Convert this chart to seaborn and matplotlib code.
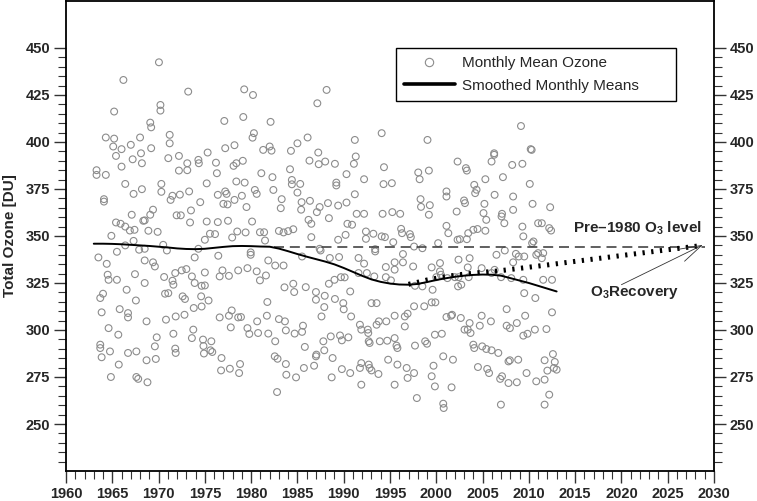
import pandas as pd
import seaborn as sns
import matplotlib.pyplot as plt
from matplotlib.lines import Line2D
from matplotlib.ticker import MultipleLocator, FixedLocator

# monthly mean total ozone (decimal year, DU)
obs_1960s = [
    (1963.3, 385.0), (1963.3, 382.5), (1963.5, 338.6), (1963.7, 317.0), (1963.7, 292.2),
    (1963.7, 290.4), (1963.85, 309.4), (1963.85, 285.5), (1964.0, 319.3), (1964.1, 369.6),
    (1964.1, 368.3), (1964.3, 382.5), (1964.3, 402.4), (1964.4, 335.2), (1964.5, 329.4),
    (1964.6, 326.7), (1964.6, 301.0), (1964.75, 288.6), (1964.85, 275.0), (1964.9, 350.1),
    (1965.1, 397.6), (1965.2, 416.2), (1965.2, 401.8), (1965.4, 392.6), (1965.4, 357.2),
    (1965.5, 341.6), (1965.5, 326.7), (1965.65, 297.5), (1965.7, 281.6), (1965.8, 311.1),
    (1965.9, 356.5), (1966.0, 396.2), (1966.0, 386.9), (1966.2, 433.0), (1966.4, 377.7),
    (1966.4, 355.0), (1966.4, 345.0), (1966.55, 321.4), (1966.7, 309.0), (1966.7, 306.7),
    (1966.7, 287.8), (1966.9, 352.9), (1967.0, 398.5), (1967.1, 361.3), (1967.2, 390.8),
    (1967.3, 372.4), (1967.3, 347.4), (1967.4, 353.3), (1967.45, 329.7), (1967.55, 315.7),
    (1967.6, 288.6), (1967.6, 275.0), (1967.8, 274.0), (1967.9, 342.7), (1968.0, 402.4),
    (1968.1, 394.0), (1968.2, 388.7), (1968.2, 374.9), (1968.35, 358.1), (1968.5, 358.3),
    (1968.5, 343.2), (1968.5, 337.0), (1968.5, 325.0), (1968.7, 304.6), (1968.7, 283.9),
    (1968.8, 272.2), (1968.9, 352.8), (1969.1, 410.3), (1969.1, 361.3), (1969.2, 407.8),
    (1969.2, 396.7), (1969.4, 364.0), (1969.4, 336.0), (1969.6, 333.8), (1969.6, 291.3),
    (1969.7, 284.6), (1969.8, 296.1), (1969.9, 352.2),
]
obs_1970s = [
    (1970.04, 442.4), (1970.2, 419.7), (1970.2, 416.7), (1970.3, 377.7), (1970.3, 373.5),
    (1970.5, 345.3), (1970.6, 328.2), (1970.7, 319.3), (1970.8, 305.5), (1970.9, 342.3),
    (1971.05, 391.4), (1971.05, 319.6), (1971.2, 403.8), (1971.2, 399.3), (1971.3, 369.2),
    (1971.5, 371.4), (1971.5, 326.2), (1971.6, 324.1), (1971.6, 298.0), (1971.8, 330.3),
    (1971.8, 290.1), (1971.85, 307.2), (1971.85, 287.8), (1971.95, 361.0), (1972.2, 392.6),
    (1972.2, 384.8), (1972.3, 372.0), (1972.4, 361.0), (1972.5, 331.7), (1972.6, 317.9),
    (1972.8, 308.1), (1972.85, 316.5), (1973.0, 332.4), (1973.1, 388.7), (1973.1, 385.0),
    (1973.2, 426.8), (1973.3, 373.7), (1973.4, 357.2), (1973.5, 363.6), (1973.6, 328.5),
    (1973.6, 295.7), (1973.75, 300.2), (1973.8, 311.7), (1973.9, 338.6), (1973.9, 325.0),
    (1974.3, 390.5), (1974.35, 388.7), (1974.3, 343.2), (1974.5, 368.0), (1974.6, 317.9),
    (1974.65, 323.5), (1974.65, 312.5), (1974.8, 294.9), (1974.85, 291.5), (1974.9, 287.5),
    (1975.0, 348.0), (1975.2, 378.0), (1975.2, 357.7), (1975.4, 315.7), (1975.3, 394.4),
    (1975.55, 351.2), (1975.0, 330.6), (1975.0, 323.7), (1975.7, 294.0), (1975.8, 288.3),
    (1975.6, 289.2), (1976.1, 351.0), (1976.2, 389.0), (1976.3, 383.4), (1976.4, 371.9),
    (1976.4, 357.4), (1976.45, 339.5), (1976.6, 328.5), (1976.6, 306.7), (1976.8, 285.1),
    (1976.75, 278.5), (1976.9, 331.7), (1977.0, 367.1), (1977.1, 411.2), (1977.2, 396.7),
    (1977.2, 373.7), (1977.35, 372.4), (1977.45, 366.8), (1977.5, 358.1), (1977.6, 328.8),
    (1977.6, 307.6), (1977.7, 279.4), (1977.8, 301.4), (1977.9, 310.4), (1977.95, 349.2),
    (1978.1, 387.3), (1978.2, 398.3), (1978.2, 369.2), (1978.4, 388.7), (1978.4, 379.0),
    (1978.5, 352.4), (1978.6, 331.7), (1978.6, 306.7), (1978.7, 277.1), (1978.8, 281.9),
    (1978.9, 306.9), (1979.0, 371.4), (1979.1, 390.0), (1979.15, 413.3), (1979.25, 428.0),
    (1979.3, 378.4), (1979.4, 351.9), (1979.5, 365.4), (1979.6, 332.9), (1979.6, 301.0),
    (1979.8, 297.9), (1979.95, 341.3), (1979.95, 340.0),
]
obs_1980s = [
    (1980.15, 402.3), (1980.2, 425.0), (1980.3, 404.7), (1980.1, 357.7), (1980.4, 374.5),
    (1980.6, 372.4), (1980.6, 331.2), (1980.65, 304.6), (1980.75, 298.4), (1980.95, 352.0),
    (1980.95, 326.4), (1981.1, 383.4), (1981.3, 395.8), (1981.4, 352.0), (1981.5, 347.6),
    (1981.6, 329.0), (1981.7, 307.6), (1981.75, 314.9), (1981.85, 337.0), (1981.85, 298.1),
    (1982.0, 397.6), (1982.1, 410.7), (1982.2, 395.4), (1982.3, 381.3), (1982.4, 374.5),
    (1982.55, 286.0), (1982.6, 334.3), (1982.6, 294.0), (1982.8, 267.0), (1982.85, 284.7),
    (1983.0, 352.7), (1983.0, 305.8), (1983.2, 364.8), (1983.3, 369.6), (1983.5, 351.9),
    (1983.5, 334.3), (1983.6, 322.7), (1983.65, 304.6), (1983.75, 299.8), (1983.75, 281.9),
    (1983.8, 276.2), (1984.0, 352.6), (1984.2, 385.5), (1984.3, 395.3), (1984.4, 379.8),
    (1984.4, 377.5), (1984.55, 353.6), (1984.55, 324.6), (1984.65, 320.2), (1984.7, 298.1),
    (1984.85, 274.8), (1985.0, 399.3), (1985.0, 373.1), (1985.3, 377.7), (1985.4, 364.0),
    (1985.45, 368.0), (1985.5, 339.1), (1985.5, 299.0), (1985.6, 302.3), (1985.7, 279.8),
    (1985.8, 291.0), (1985.9, 322.8), (1986.1, 402.4), (1986.2, 358.6), (1986.3, 390.1),
    (1986.35, 368.7), (1986.5, 356.5), (1986.5, 349.4), (1986.8, 281.0), (1987.0, 320.2),
    (1987.0, 316.1), (1987.0, 286.0), (1987.05, 286.9), (1987.1, 362.7), (1987.15, 420.6),
    (1987.25, 394.4), (1987.3, 388.2), (1987.4, 365.4), (1987.4, 343.2), (1987.5, 342.3),
    (1987.6, 307.2), (1987.8, 294.0), (1987.9, 312.2), (1987.9, 289.2), (1987.95, 318.2),
    (1988.15, 427.7), (1988.3, 367.5), (1988.0, 389.6), (1988.4, 324.6), (1988.4, 359.5),
    (1988.5, 338.3), (1988.6, 296.6), (1988.8, 285.1), (1988.7, 274.8), (1989.05, 388.4),
    (1989.05, 316.5), (1989.0, 326.7), (1989.2, 378.4), (1989.2, 376.9), (1989.4, 366.2),
    (1989.4, 348.0), (1989.5, 338.8), (1989.6, 297.1), (1989.7, 328.1), (1989.8, 294.5),
    (1989.8, 279.2), (1989.95, 314.3),
]
obs_1990s = [
    (1990.0, 311.0), (1990.3, 382.9), (1990.3, 367.8), (1990.4, 356.5), (1990.2, 350.6),
    (1990.1, 328.0), (1990.5, 296.1), (1990.7, 320.5), (1990.7, 277.1), (1990.8, 307.2),
    (1990.9, 356.0), (1991.1, 388.4), (1991.2, 401.1), (1991.2, 372.2), (1991.3, 392.3),
    (1991.4, 361.8), (1991.6, 338.3), (1991.6, 330.3), (1991.75, 302.8), (1991.75, 279.8),
    (1991.9, 300.2), (1991.9, 282.4), (1991.9, 270.9), (1992.2, 380.2), (1992.2, 361.8),
    (1992.2, 335.3), (1992.4, 352.4), (1992.4, 348.5), (1992.5, 330.3), (1992.6, 300.2),
    (1992.65, 298.4), (1992.7, 294.0), (1992.7, 281.6), (1992.8, 293.1), (1992.8, 279.8),
    (1993.0, 314.3), (1993.0, 278.5), (1993.2, 351.2), (1993.3, 328.5), (1993.4, 343.0),
    (1993.4, 341.8), (1993.55, 314.3), (1993.55, 302.8), (1993.75, 276.6), (1993.8, 304.6),
    (1993.9, 294.0), (1994.1, 404.7), (1994.1, 349.8), (1994.2, 361.8), (1994.3, 377.6),
    (1994.35, 386.6), (1994.45, 349.4), (1994.55, 333.5), (1994.55, 328.1), (1994.6, 304.6),
    (1994.7, 294.3), (1994.8, 284.2), (1995.1, 326.4), (1995.2, 378.1), (1995.25, 362.7),
    (1995.35, 346.7), (1995.5, 332.1), (1995.5, 336.0), (1995.5, 307.6), (1995.5, 295.7),
    (1995.5, 270.9), (1995.7, 291.7), (1995.8, 290.4), (1995.8, 281.6), (1996.1, 361.8),
    (1996.2, 353.8), (1996.3, 351.5), (1996.4, 340.4), (1996.4, 336.0), (1996.6, 307.2),
    (1996.6, 301.9), (1996.8, 279.8), (1996.9, 308.7), (1996.9, 274.5), (1997.15, 351.0),
    (1997.25, 349.4), (1997.5, 333.8), (1997.6, 344.4), (1997.6, 312.6), (1997.6, 277.1),
    (1997.7, 323.5), (1997.7, 291.7), (1997.9, 263.8), (1998.05, 383.8), (1998.2, 380.2),
    (1998.3, 369.6), (1998.35, 365.5), (1998.5, 343.5), (1998.5, 323.2), (1998.7, 312.6),
    (1998.8, 294.0), (1999.0, 292.7), (1999.05, 401.1), (1999.2, 384.8), (1999.2, 361.3),
    (1999.3, 366.4), (1999.5, 333.3), (1999.5, 314.7), (1999.5, 275.4), (1999.6, 321.4),
    (1999.7, 281.0), (1999.85, 297.5), (1999.85, 270.0), (1999.9, 314.7),
]
obs_2000s = [
    (2000.0, 328.1), (2000.2, 346.2), (2000.4, 335.6), (2000.4, 331.2), (2000.5, 329.4),
    (2000.6, 298.0), (2000.75, 286.0), (2000.75, 260.8), (2000.8, 258.5), (2001.1, 373.7),
    (2001.1, 371.0), (2001.1, 355.4), (2001.1, 306.9), (2001.2, 327.6), (2001.3, 351.5),
    (2001.65, 269.5), (2001.6, 307.6), (2001.7, 308.1), (2001.8, 284.2), (2002.0, 328.1),
    (2002.2, 363.0), (2002.3, 389.6), (2002.3, 348.0), (2002.35, 323.2), (2002.4, 337.4),
    (2002.4, 328.1), (2002.55, 348.3), (2002.65, 306.4), (2002.7, 324.1), (2003.0, 368.9),
    (2003.05, 300.2), (2003.1, 367.5), (2003.2, 386.1), (2003.3, 384.8), (2003.3, 348.3),
    (2003.4, 333.3), (2003.4, 300.2), (2003.45, 351.5), (2003.5, 328.1), (2003.6, 338.2),
    (2003.6, 303.7), (2003.7, 298.4), (2004.0, 353.3), (2004.0, 292.2), (2004.1, 377.2),
    (2004.1, 290.4), (2004.2, 372.8), (2004.35, 374.6), (2004.45, 353.7), (2004.5, 280.3),
    (2004.7, 302.3), (2004.9, 332.9), (2004.9, 307.6), (2004.96, 291.3), (2005.1, 362.2),
    (2005.2, 367.1), (2005.3, 380.2), (2005.3, 352.8), (2005.4, 358.6), (2005.4, 289.9),
    (2005.5, 279.3), (2005.7, 277.1), (2005.9, 304.6), (2005.97, 389.6), (2005.97, 330.3),
    (2005.97, 289.2), (2006.25, 394.0), (2006.25, 393.2), (2006.3, 371.9), (2006.3, 332.0),
    (2006.5, 340.0), (2006.7, 287.8), (2006.9, 274.0), (2006.98, 260.3), (2007.0, 328.1),
    (2007.05, 360.4), (2007.1, 361.8), (2007.1, 275.4), (2007.2, 381.3), (2007.35, 356.8),
    (2007.4, 342.3), (2007.6, 311.1), (2007.6, 302.3), (2007.8, 283.3), (2007.8, 271.8),
    (2007.95, 301.0), (2007.95, 283.9), (2008.1, 327.6), (2008.2, 387.8), (2008.3, 371.0),
    (2008.3, 363.9), (2008.3, 336.0), (2008.6, 340.5), (2008.7, 303.7), (2008.7, 272.2),
    (2008.85, 284.2), (2008.9, 339.1), (2009.15, 408.5), (2009.3, 388.4), (2009.3, 355.0),
    (2009.4, 349.8), (2009.4, 326.7), (2009.4, 297.0), (2009.5, 339.1), (2009.5, 319.6),
    (2009.6, 307.6), (2009.75, 277.1), (2009.85, 298.0),
]
obs_2010s = [
    (2010.1, 377.7), (2010.2, 396.2), (2010.3, 395.8), (2010.35, 346.2), (2010.4, 367.1),
    (2010.5, 347.1), (2010.65, 300.2), (2010.7, 317.0), (2010.8, 340.0), (2010.8, 272.7),
    (2011.0, 356.8), (2011.0, 340.9), (2011.4, 356.8), (2011.4, 338.2), (2011.55, 340.9),
    (2011.55, 326.7), (2011.7, 283.9), (2011.7, 273.6), (2011.7, 260.3), (2011.9, 300.5),
    (2012.0, 278.4), (2012.2, 354.2), (2012.2, 265.6), (2012.3, 365.3), (2012.4, 352.9),
    (2012.5, 326.7), (2012.5, 309.4), (2012.6, 287.2), (2012.7, 279.8), (2012.8, 283.0),
    (2013.0, 278.9),
]

# smoothed monthly means, one reading per year
smooth_years = list(range(1963, 2014))
smooth_ozone = [
    345.9, 345.9, 345.8, 345.6, 345.3, 345.0, 344.7, 344.3, 343.9, 343.4,
    343.1, 343.0, 343.2, 343.7, 344.2, 344.6, 344.7, 344.6, 344.4, 344.3,
    343.3, 341.9, 340.4, 339.0, 337.7, 336.4, 334.9, 333.0, 330.9, 328.8,
    326.9, 325.6, 324.7, 324.2, 324.1, 324.5, 325.5, 326.6, 327.5, 328.3,
    328.9, 329.3, 329.5, 329.4, 328.9, 327.6, 326.3, 325.0, 323.5, 322.0,
    320.5,
]

# projected recovery (dotted) and pre-1980 reference level (dashed)
recovery_years = [1997, 1998, 1999, 2000, 2001, 2002, 2003, 2004, 2005, 2006,
                  2007, 2008, 2009, 2010, 2012, 2015, 2020, 2025, 2028.8]
recovery_ozone = [324.3, 325.4, 326.6, 327.5, 328.4, 329.1, 329.7, 330.2, 330.7, 331.1,
                  331.6, 332.2, 332.8, 333.4, 334.6, 336.5, 339.6, 342.7, 345.0]
pre1980_years = [1982.5, 2029.0]
pre1980_ozone = [344.3, 344.3]

sns.set_theme(style="ticks")
plt.rcParams["font.family"] = ["Liberation Sans", "DejaVu Sans"]
plt.rcParams["font.weight"] = "bold"
plt.rcParams["mathtext.fontset"] = "custom"
plt.rcParams["mathtext.rm"] = "Liberation Sans"
plt.rcParams["mathtext.bf"] = "Liberation Sans:bold"

obs = pd.DataFrame(obs_1960s + obs_1970s + obs_1980s + obs_1990s + obs_2000s + obs_2010s,
                   columns=["year", "ozone"])

fig = plt.figure(figsize=(7.57, 5.01), dpi=100)
ax = fig.add_axes([66 / 757, 30 / 501, 648 / 757, 470 / 501])

sns.scatterplot(data=obs, x="year", y="ozone", ax=ax, s=24, color="#8c8c8c", zorder=2)
pts = ax.collections[-1]
pts.set_facecolor("none")
pts.set_edgecolor("#8c8c8c")
pts.set_linewidth(0.8)

sns.lineplot(x=pre1980_years, y=pre1980_ozone, ax=ax, color="#444444", lw=1.2,
             linestyle=(0, (6, 3.5)), estimator=None, sort=False, zorder=3)
sns.lineplot(x=recovery_years, y=recovery_ozone, ax=ax, color="black", lw=3.6,
             linestyle=(0, (0.45, 1.3)), estimator=None, sort=False, zorder=3)
sns.lineplot(x=smooth_years, y=smooth_ozone, ax=ax, color="black", lw=1.4,
             estimator=None, sort=False, zorder=4)

ax.set_xlim(1960, 2030)
ax.set_ylim(225, 475)
ax.xaxis.set_major_locator(MultipleLocator(5))
ax.xaxis.set_minor_locator(MultipleLocator(1))
ax.yaxis.set_major_locator(FixedLocator(list(range(250, 451, 25))))
ax.yaxis.set_minor_locator(FixedLocator([v for v in range(230, 450, 5) if v % 25]))
ax.tick_params(which="major", direction="out", length=8.5, width=1.0, labelsize=10.5,
               pad=3, color="#333333")
ax.tick_params(which="minor", direction="out", length=5.5, width=0.8, color="#333333")
ax.tick_params(axis="y", which="both", left=True, right=True, labelleft=True, labelright=True)
ax.tick_params(axis="x", which="both", top=False, bottom=True)
for sp in ax.spines.values():
    sp.set_linewidth(1.3)
    sp.set_color("black")

ax.set_xlabel("")
ax.set_ylabel("Total Ozone [DU]", fontsize=11, fontweight="bold")
ax.yaxis.set_label_coords(-0.0756, 0.5)

ax.text(2028.7, 351.9, r"Pre–1980 O$_\mathbf{3}$ level", ha="right", va="baseline",
        fontsize=11, fontweight="bold")
ax.text(2021.4, 317.9, r"O$_\mathbf{3}$Recovery", ha="center", va="baseline",
        fontsize=11, fontweight="bold")
ax.annotate("", xy=(2028.8, 345.3), xytext=(2020.0, 324.1),
            arrowprops=dict(arrowstyle="->,head_length=1.0,head_width=0.3", lw=0.6,
                            color="#333333", shrinkA=0, shrinkB=0, mutation_scale=16))

handles = [
    Line2D([], [], marker="o", ls="none", mfc="none", mec="#8c8c8c", mew=0.8, ms=6),
    Line2D([], [], color="black", lw=2.6),
]
leg = ax.legend(handles, ["Monthly Mean Ozone", "Smoothed Monthly Means"],
                loc="upper left", bbox_to_anchor=(0.509, 0.796, 0.432, 0.104),
                mode="expand", borderaxespad=0, prop={"size": 11, "weight": "normal"},
                frameon=True, fancybox=False, framealpha=1, edgecolor="black",
                handlelength=3.3, handletextpad=0.45, borderpad=0.55, labelspacing=0.55)
leg.get_frame().set_linewidth(1.0)

fig.savefig("out.png", dpi=100)
